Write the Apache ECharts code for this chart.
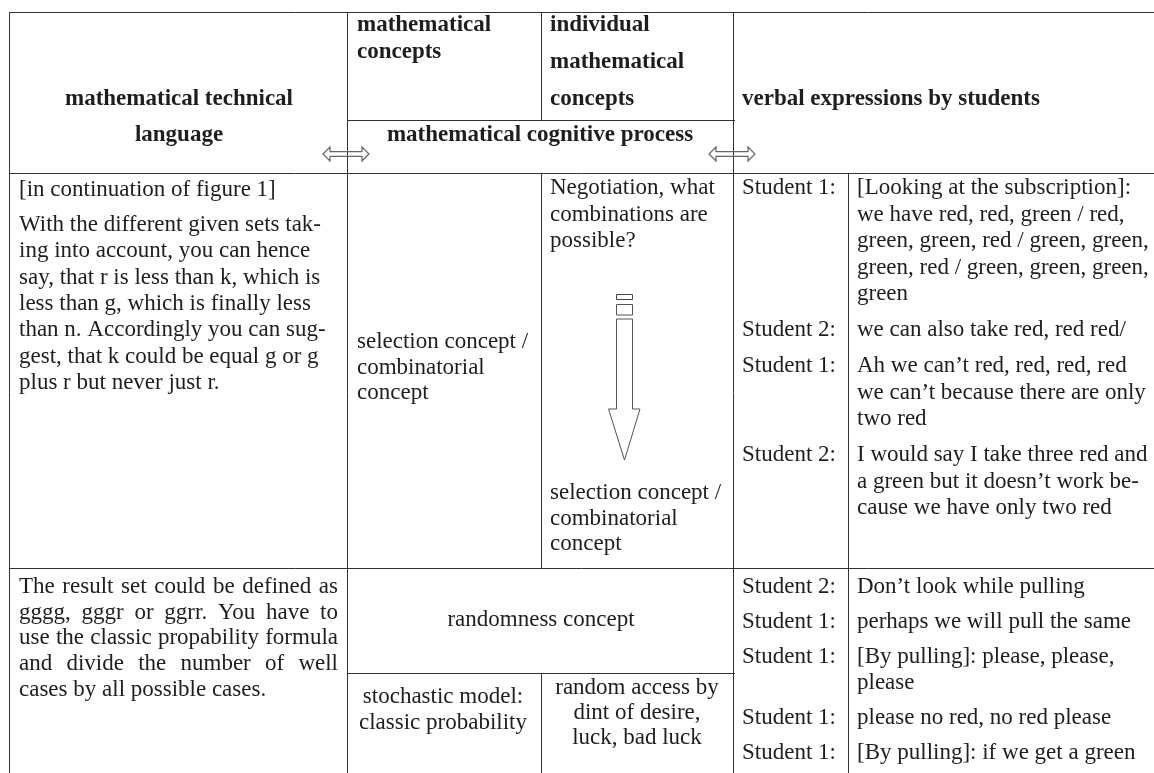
<!DOCTYPE html>
<html>
<head>
<meta charset="utf-8">
<script src="https://cdn.jsdelivr.net/npm/echarts@6/dist/echarts.min.js"></script>
<style>html,body{margin:0;padding:0;background:#fff}#c{width:1154px;height:773px}</style>
</head>
<body>
<div id="c"></div>
<script>
// ---------- table content ----------
const headTechnical = ['mathematical technical', 'language'];
const headConcepts = ['mathematical', 'concepts'];
const headIndividual = ['individual', 'mathematical', 'concepts'];
const headProcess = ['mathematical cognitive process'];
const headVerbal = ['verbal expressions by students'];

const row1Intro = ['[in continuation of figure 1]'];
const row1Technical = [
  'With the different given sets tak-',
  'ing into account, you can hence',
  'say, that r is less than k, which is',
  'less than g, which is finally less',
  'than n. Accordingly you can sug-',
  'gest, that k could be equal g or g',
  'plus r but never just r.'
];
const row1Concepts = ['selection concept /', 'combinatorial', 'concept'];
const row1IndividualTop = ['Negotiation, what', 'combinations are', 'possible?'];
const row1IndividualBottom = ['selection concept /', 'combinatorial', 'concept'];
const row1Speakers = ['Student 1:', 'Student 2:', 'Student 1:', 'Student 2:'];
const row1Utterances = [
  ['[Looking at the subscription]:', 'we have red, red, green / red,', 'green, green, red / green, green,', 'green, red / green, green, green,', 'green'],
  ['we can also take red, red red/'],
  ['Ah we can\u2019t red, red, red, red', 'we can\u2019t because there are only', 'two red'],
  ['I would say I take three red and', 'a green but it doesn\u2019t work be-', 'cause we have only two red']
];

const row2Technical = [
  'The result set could be defined as',
  'gggg, gggr or ggrr. You have to',
  'use the classic propability formula',
  'and divide the number of well',
  'cases by all possible cases.'
];
const row2Concept = ['randomness concept'];
const row2Model = ['stochastic model:', 'classic probability'];
const row2Access = ['random access by', 'dint of desire,', 'luck, bad luck'];
const row2Speakers = ['Student 2:', 'Student 1:', 'Student 1:', 'Student 1:', 'Student 1:'];
const row2Utterances = [
  ['Don\u2019t look while pulling'],
  ['perhaps we will pull the same'],
  ['[By pulling]: please, please,', 'please'],
  ['please no red, no red please'],
  ['[By pulling]: if we get a green']
];

// ---------- layout ----------
const FS = 23;
const FONT = FS + 'px "Liberation Serif", "Times New Roman", serif';
const BFONT = 'bold ' + FONT;
const TXT = '#1e1e1e';
const LINE = '#333';
const colX = [9, 347, 541, 733, 848];
const rowY = [12, 120, 173, 568, 673, 773];
const RIGHT = 1154;

const els = [];
const measure = (function () {
  const ctx = document.createElement('canvas').getContext('2d');
  return function (t, f) { ctx.font = f; return ctx.measureText(t).width; };
})();

function text(t, x, y, align, font) {
  els.push({
    type: 'text', x: x, y: y, silent: true,
    style: { text: t, font: font || FONT, fill: TXT,
      align: align || 'left', textAlign: align || 'left',
      verticalAlign: 'middle', textVerticalAlign: 'middle' }
  });
}
function block(lines, x, y0, lh, align, font) {
  lines.forEach((l, i) => text(l, x, y0 + i * lh, align, font));
}
function justified(lines, x, y0, lh, width) {
  lines.forEach((l, i) => {
    const y = y0 + i * lh;
    const words = l.split(' ');
    if (i === lines.length - 1 || words.length < 2) { text(l, x, y); return; }
    const ws = words.map(w => measure(w, FONT));
    const total = ws.reduce((a, b) => a + b, 0);
    const gap = (width - total) / (words.length - 1);
    let cx = x;
    words.forEach((w, k) => { text(w, cx, y); cx += ws[k] + gap; });
  });
}
function hline(x1, x2, y) {
  els.push({ type: 'line', silent: true, shape: { x1: x1, y1: y + 0.5, x2: x2, y2: y + 0.5 }, style: { stroke: LINE, lineWidth: 1 } });
}
function vline(x, y1, y2) {
  els.push({ type: 'line', silent: true, shape: { x1: x + 0.5, y1: y1, x2: x + 0.5, y2: y2 }, style: { stroke: LINE, lineWidth: 1 } });
}
function dialogue(speakers, utter, y0, lh, gap) {
  let y = y0;
  speakers.forEach((s, i) => {
    text(s, 742, y);
    utter[i].forEach((u, k) => text(u, 857, y + k * lh));
    y += (utter[i].length - 1) * lh + gap;
  });
}
function doubleArrow(cx, cy) {
  const L = 23, H = 7, hh = 7, sh = 2.3;
  els.push({ type: 'polygon', silent: true, shape: { points: [
    [cx - L, cy], [cx - L + H, cy - hh], [cx - L + H, cy - sh], [cx + L - H, cy - sh], [cx + L - H, cy - hh],
    [cx + L, cy], [cx + L - H, cy + hh], [cx + L - H, cy + sh], [cx - L + H, cy + sh], [cx - L + H, cy + hh]] },
    style: { fill: 'none', stroke: '#666', lineWidth: 1.2 } });
}

// grid lines
hline(colX[0], RIGHT, rowY[0]);
hline(colX[1], 735, rowY[1]);
hline(colX[0], RIGHT, rowY[2]);
hline(colX[0], RIGHT, rowY[3]);
hline(colX[1], 735, rowY[4]);
vline(colX[0], rowY[0], rowY[5]);
vline(colX[1], rowY[0], rowY[5]);
vline(colX[2], rowY[0], rowY[1]);
vline(colX[2], rowY[2], rowY[3]);
vline(colX[2], rowY[4], rowY[5]);
vline(colX[3], rowY[0], rowY[5]);
vline(colX[4], rowY[2], rowY[5]);

// header
block(headTechnical, 179, 99, 36.5, 'center', BFONT);
block(headConcepts, 357, 25, 27, 'left', BFONT);
block(headIndividual, 550, 25, 37, 'left', BFONT);
block(headProcess, 540, 135, 0, 'center', BFONT);
block(headVerbal, 742, 99, 0, 'left', BFONT);
doubleArrow(346, 154);
doubleArrow(732, 154);

// row 1
block(row1Intro, 19, 190, 0);
block(row1Technical, 19, 225, 26.3);
block(row1Concepts, 357, 342, 25.7);
block(row1IndividualTop, 550, 188, 26.5);
block(row1IndividualBottom, 550, 493, 25.7);
dialogue(row1Speakers, row1Utterances, 188, 26.5, 36);
// vertical process arrow
els.push({ type: 'rect', silent: true, shape: { x: 616.5, y: 294.5, width: 16, height: 5 }, style: { fill: 'none', stroke: '#444', lineWidth: 1 } });
els.push({ type: 'rect', silent: true, shape: { x: 616.5, y: 304.5, width: 16, height: 10.5 }, style: { fill: 'none', stroke: '#555', lineWidth: 1 } });
els.push({ type: 'polygon', silent: true, shape: { points: [[616.5, 319], [632.5, 319], [632.5, 409], [640, 409], [624.5, 460], [608.5, 409], [616.5, 409]] }, style: { fill: 'none', stroke: '#555', lineWidth: 1 } });

// row 2
justified(row2Technical, 19, 587, 25.7, 319);
block(row2Concept, 541, 620, 0, 'center');
block(row2Model, 443, 697, 26, 'center');
block(row2Access, 637, 688, 25, 'center');
dialogue(row2Speakers, row2Utterances, 587, 26.3, 35);

const chart = echarts.init(document.getElementById('c'), null, { renderer: 'canvas' });
chart.setOption({ animation: false, backgroundColor: '#fff', graphic: { elements: els } });
</script>
</body>
</html>
